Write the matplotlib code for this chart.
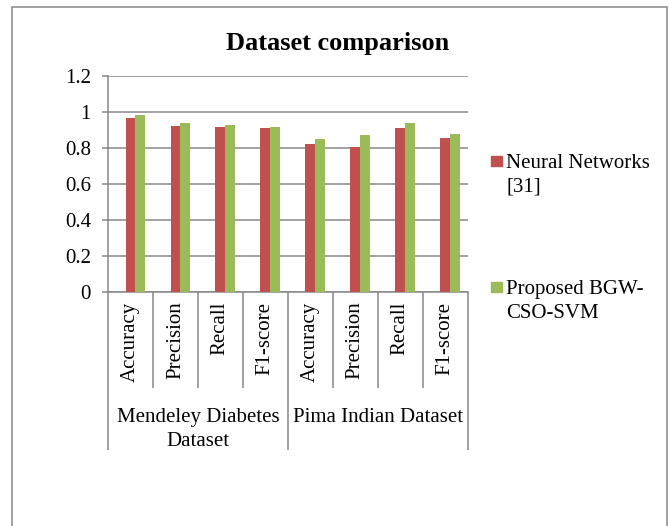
import matplotlib
matplotlib.use("Agg")
import matplotlib.pyplot as plt
from matplotlib.patches import Rectangle
import numpy as np

# values
metrics = ["Accuracy", "Precision", "Recall", "F1-score",
           "Accuracy", "Precision", "Recall", "F1-score"]
datasets = ["Mendeley Diabetes\nDataset", "Pima Indian Dataset"]
neural_networks = [0.965, 0.920, 0.917, 0.911, 0.820, 0.804, 0.911, 0.854]
proposed = [0.981, 0.941, 0.928, 0.917, 0.848, 0.874, 0.941, 0.880]
series_names = ["Neural Networks\n[31]", "Proposed BGW-\nCSO-SVM"]
colors = ["#C0504D", "#9BBB59"]
yticks = [0, 0.2, 0.4, 0.6, 0.8, 1.0, 1.2]
ytick_labels = ["0", "0.2", "0.4", "0.6", "0.8", "1", "1.2"]

plt.rcParams["font.family"] = ["Liberation Serif", "DejaVu Serif"]
grid_col = "#878787"

fig = plt.figure(figsize=(6.69, 5.26), dpi=100)
W, H = 669, 526

# outer chart frame
fig.patches.append(Rectangle((12 / W, -0.05), (667 - 12) / W, 1.05 - 7 / H,
                             transform=fig.transFigure, fill=False,
                             edgecolor=grid_col, linewidth=1.1))

ax = fig.add_axes([108 / W, 1 - 292 / H, (467.5 - 108) / W, (292 - 76) / H])

n = len(metrics)
centers = np.arange(n) + 0.5
bw = 0.216
ax.bar(centers, neural_networks, width=bw, color=colors[0], zorder=3)
ax.bar(centers + bw, proposed, width=bw, color=colors[1], zorder=3)

ax.set_xlim(0, n)
ax.set_ylim(0, 1.2)
ax.set_yticks(yticks)
ax.set_yticklabels(ytick_labels, fontsize=15)
ax.yaxis.grid(True, color=grid_col, linewidth=1.1, zorder=0)
ax.set_axisbelow(True)

for s in ["top", "right"]:
    ax.spines[s].set_visible(False)
for s in ["left", "bottom"]:
    ax.spines[s].set_color(grid_col)
    ax.spines[s].set_linewidth(1.1)

ax.tick_params(axis="y", length=4.3, width=1.1, color=grid_col, pad=8)

# category separators as ticks: long ones between datasets, short ones between metrics
ax.set_xticks([0, 4, 8])
ax.set_xticks([1, 2, 3, 5, 6, 7], minor=True)
ax.tick_params(axis="x", which="major", length=114, width=1.1, color=grid_col, labelbottom=False)
ax.tick_params(axis="x", which="minor", length=69, width=1.1, color=grid_col, labelbottom=False)

for c, m in zip(centers, metrics):
    ax.annotate(m, xy=(c, 0), xycoords=("data", "axes fraction"),
                xytext=(0, -7), textcoords="offset points",
                rotation=90, ha="center", va="top", fontsize=15)

for i, d in enumerate(datasets):
    ax.annotate(d, xy=(2 + 4 * i, 0), xycoords=("data", "axes fraction"),
                xytext=(0, -83.5), textcoords="offset points",
                ha="center", va="top", fontsize=15, linespacing=1.35)

fig.text(338 / W, 1 - 50 / H, "Dataset comparison", ha="center", va="baseline",
         fontsize=19, fontweight="bold")

# legend, drawn like the spreadsheet one (marker next to the first line)
legend_y = [161, 287]
for name, col, ly in zip(series_names, colors, legend_y):
    fig.patches.append(Rectangle((491 / W, 1 - (ly + 5) / H), 11 / W, 10 / H,
                                 transform=fig.transFigure, color=col))
    fig.text(506 / W, 1 - (ly - 7) / H, name, ha="left", va="top",
             fontsize=15, linespacing=1.35)

fig.savefig("out.png", dpi=100)
